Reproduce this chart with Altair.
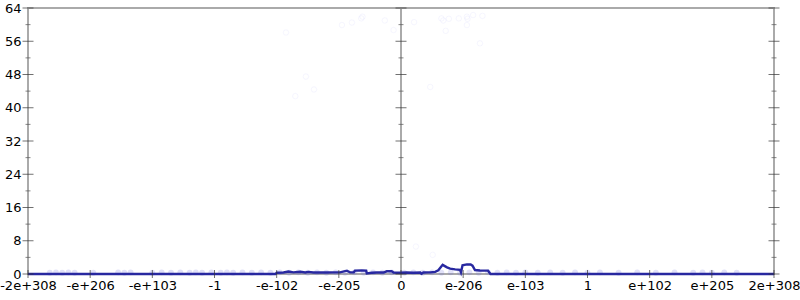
import json
import altair as alt
import pandas as pd

# ---- data ----
tick_labels = ["-2e+308", "-e+206", "-e+103", "-1", "-e-102", "-e-205", "0",
               "e-206", "e-103", "1", "e+102", "e+205", "2e+308"]
tick_pos = list(range(-6, 7))
y_major = [0, 8, 16, 24, 32, 40, 48, 56, 64]
y_minor = [4, 12, 20, 28, 36, 44, 52, 60]
axis_pos = [-6, 0, 6]

line_x = [-6, -2.02, -2.00, -1.89, -1.81, -1.73, -1.62, -1.54, -1.49, -1.41, -1.30,
          -1.20, -1.06, -0.98, -0.87, -0.82, -0.76, -0.74, -0.63, -0.56, -0.55, -0.47,
          -0.39, -0.28, -0.23, -0.15, -0.12, -0.07, -0.016, 0.09, 0.20, 0.31, 0.33,
          0.36, 0.47, 0.55, 0.60, 0.67, 0.74, 0.79, 0.87, 0.95, 0.965, 0.99, 1.06,
          1.12, 1.15, 1.19, 1.27, 1.40, 1.44, 6]
line_y = [0, 0, 0.3, 0.35, 0.6, 0.4, 0.55, 0.35, 0.5, 0.35, 0.4,
          0.35, 0.4, 0.4, 0.8, 0.4, 0.4, 0.8, 0.85, 0.8, 0.15, 0.3,
          0.35, 0.35, 0.65, 0.65, 0.35, 0.3, 0.3, 0.35, 0.3, 0.35, 0.05,
          0.35, 0.4, 0.5, 0.9, 2.2, 1.6, 1.3, 1.1, 1.0, 0.4, 2.1, 2.3,
          2.3, 2.0, 0.95, 0.85, 0.8, 0, 0]

pt_x = [-1.85, -1.53, -1.40, -1.70, -0.95, -0.79, -0.64, -0.62, -0.26, -0.12, 0.21,
        0.47, 0.65, 0.68, 0.77, 0.72, 0.93, 1.06, 1.07, 1.06, 1.16, 1.31, 1.27, 0.24, 0.51]
pt_y = [58.1, 47.5, 44.4, 42.8, 59.9, 60.5, 61.5, 61.9, 61.0, 58.7, 60.6,
        45.0, 61.5, 61.0, 61.4, 58.5, 61.5, 61.9, 61.4, 59.9, 62.3, 62.1, 55.5, 6.6, 4.6]

band_x = [-5.65, -5.55, -5.45, -5.35, -5.25, -4.95, -4.55, -4.45, -4.35, -4.0, -3.85,
          -3.7, -3.55, -3.4, -3.3, -3.2, -3.05, -2.9, -2.8, -2.7, -2.55, -2.4, -2.25,
          -2.1, -1.95, -1.8, -1.65, -1.5, -1.35, -1.2, -1.05, -0.9, -0.75, -0.6, -0.45,
          -0.3, -0.15, 0.05, 0.2, 0.35, 0.5, 0.65, 0.8, 0.95, 1.1, 1.25, 1.4, 1.55, 1.7,
          1.85, 2.0, 2.2, 2.4, 2.6, 2.8, 3.0, 3.2, 3.5, 3.8, 4.1, 4.4, 4.7, 4.85, 5.0,
          5.2, 5.4]
band_y = [0.3, 0.4, 0.3, 0.4, 0.3, 0.3, 0.4, 0.3, 0.4, 0.3, 0.4,
          0.3, 0.4, 0.3, 0.4, 0.3, 0.4, 0.3, 0.4, 0.3, 0.4, 0.3, 0.4,
          0.3, 0.4, 0.3, 0.4, 0.3, 0.4, 0.3, 0.4, 0.3, 0.4, 0.3, 0.4,
          0.3, 0.4, 0.3, 0.4, 0.3, 0.4, 0.3, 0.4, 0.3, 0.4, 0.3, 0.4, 0.3, 0.4,
          0.3, 0.4, 0.3, 0.4, 0.3, 0.4, 0.3, 0.4, 0.3, 0.4, 0.3, 0.4, 0.3, 0.4, 0.3,
          0.4, 0.3]

# ---- tables ----
line_df = pd.DataFrame({"u": line_x, "v": line_y})
pt_df = pd.DataFrame({"u": pt_x, "v": pt_y})
band_df = pd.DataFrame({"u": band_x, "v": band_y})
ymaj_df = pd.DataFrame([{"u": a, "v": y} for a in axis_pos for y in y_major])
ymin_df = pd.DataFrame([{"u": a, "v": y} for a in axis_pos for y in y_minor])
xt_df = pd.DataFrame({"u": tick_pos, "v": [0] * len(tick_pos)})
mid_df = pd.DataFrame({"u": [0]})

xscale = alt.Scale(domain=[-6, 6], nice=False, zero=False)
yscale = alt.Scale(domain=[0, 64], nice=False, zero=False)

label_expr = json.dumps(tick_labels) + "[datum.value + 6]"

xaxis = alt.Axis(values=tick_pos, labelExpr=label_expr, domain=False, ticks=False,
                 grid=False, title=None, labelFontSize=13, labelFont="DejaVu Sans",
                 labelColor="black", labelPadding=5, labelFlush=False,
                 labelOverlap=False, labelBound=False)
yaxis = alt.Axis(values=y_major, domain=False, ticks=False, grid=False, title=None,
                 labelFontSize=13, labelFont="DejaVu Sans", labelColor="black",
                 labelPadding=7, labelFlush=False, labelOverlap=False, labelBound=False)

X = alt.X("u:Q", scale=xscale, axis=xaxis)
Y = alt.Y("v:Q", scale=yscale, axis=yaxis)

points = alt.Chart(pt_df).mark_point(
    shape="circle", filled=False, size=30, stroke="#6666ee", strokeOpacity=0.08,
    strokeWidth=1
).encode(x=X, y=Y)

band = alt.Chart(band_df).mark_point(
    shape="circle", filled=True, size=34, fill="#7777dd", fillOpacity=0.22,
    strokeWidth=0
).encode(x=X, y=Y)

mid_rule = alt.Chart(mid_df).mark_rule(color="#aaaaaa", strokeWidth=2).encode(x=X)

line = alt.Chart(line_df).mark_line(color="#2828a0", strokeWidth=2.4).encode(x=X, y=Y)

ymaj = alt.Chart(ymaj_df).mark_tick(orient="horizontal", size=11, thickness=1,
                                     color="#333333").encode(x=X, y=Y)
ymin = alt.Chart(ymin_df).mark_tick(orient="horizontal", size=5, thickness=1,
                                     color="#555555").encode(x=X, y=Y)
xt = alt.Chart(xt_df).mark_tick(orient="vertical", size=8, thickness=1,
                                 color="#333333").encode(x=X, y=Y)

chart = alt.layer(points, mid_rule, band, line, ymaj, ymin, xt).properties(
    width=746, height=266,
    autosize=alt.AutoSizeParams(type="none"),
    padding={"left": 28, "top": 8, "right": 26, "bottom": 26},
    background="white",
).configure_view(stroke="#aaaaaa", strokeWidth=2)

chart.save("out.html", embed_options={"renderer": "svg", "actions": False})
